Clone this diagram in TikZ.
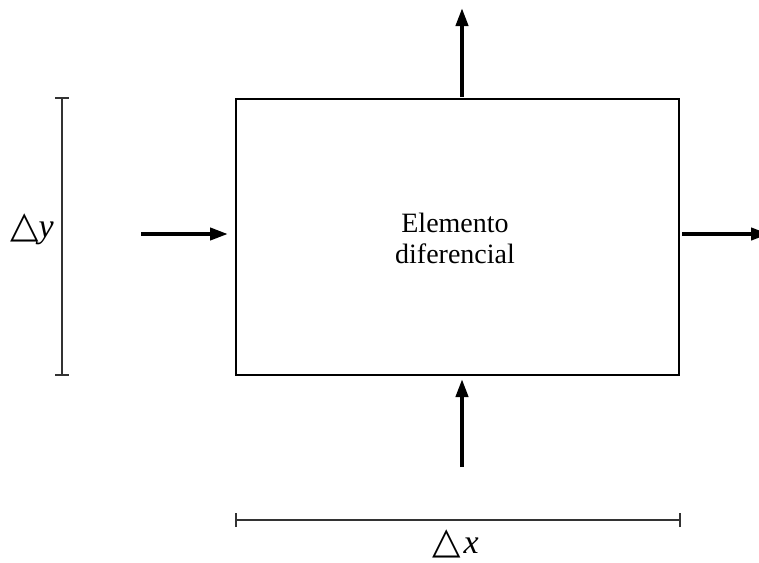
\documentclass[tikz,border=0pt]{standalone}
\usepackage{fontspec}
\setmainfont{Liberation Serif}
\newfontfamily\trifont{DejaVu Sans}
\usetikzlibrary{arrows.meta}

\tikzset{
  boxline/.style={draw=black, line width=1.3pt},
  flux/.style={line width=4pt, -{Triangle[length=18pt,width=12pt]}},
  dimline/.style={draw=black!80, line width=1.5pt},
  dimtick/.style={draw=black!80, line width=1.5pt},
  lbl/.style={inner sep=0pt, font=\fontsize{28}{31}\selectfont},
  dimlbl/.style={inner sep=0pt, anchor=base west, font=\fontsize{34}{36}\selectfont}
}
\newcommand{\dtri}{{\trifont\fontsize{37}{38}\selectfont △}}

\begin{document}
\begin{tikzpicture}[x=1pt, y=-1pt]
  \useasboundingbox (0,0) rectangle (759,562);

  % control volume
  \node[boxline, minimum width=443pt, minimum height=276pt, inner sep=0pt]
    (elem) at (457.5,237) {};
  \node[lbl, align=center] (txt) at (455,238) {Elemento\\diferencial};

  % flux arrows
  \coordinate (inL)  at (141,234);
  \coordinate (inLe) at (228,234);
  \coordinate (outR) at (682,234);
  \coordinate (outRe) at (769,234);
  \coordinate (outT) at (462,97);
  \coordinate (outTe) at (462,8);
  \coordinate (inB)  at (462,467);
  \coordinate (inBe) at (462,379);
  \draw[flux] (inL) -- (inLe);
  \draw[flux] (outR) -- (outRe);
  \draw[flux] (outT) -- (outTe);
  \draw[flux] (inB) -- (inBe);

  % dimension in y
  \coordinate (dyT) at (62,98);
  \coordinate (dyB) at (62,375);
  \draw[dimline] (dyT) -- (dyB);
  \draw[dimtick] ([xshift=-7pt]dyT) -- ([xshift=7pt]dyT);
  \draw[dimtick] ([xshift=-7pt]dyB) -- ([xshift=7pt]dyB);
  \node[dimlbl] (dy) at (10,237) {\dtri\textit{y}};

  % dimension in x
  \coordinate (dxL) at (236,520);
  \coordinate (dxR) at (680,520);
  \draw[dimline] (dxL) -- (dxR);
  \draw[dimtick] ([yshift=-7pt]dxL) -- ([yshift=7pt]dxL);
  \draw[dimtick] ([yshift=-7pt]dxR) -- ([yshift=7pt]dxR);
  \node[dimlbl] (dx) at (432,553) {\dtri\hspace{3pt}\textit{x}};
\end{tikzpicture}
\end{document}
